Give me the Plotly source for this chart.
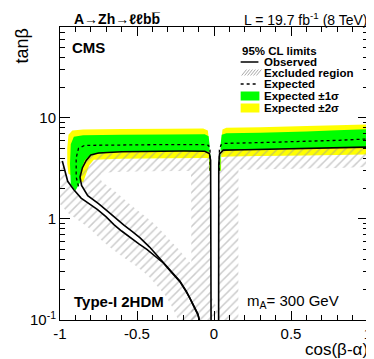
import numpy as np
import plotly.graph_objects as go

# ---- contour data: cos(beta-alpha) vs tan(beta) ----
# observed, lower-left diagonal branch
obs_diag_x = [-0.985, -0.975, -0.95, -0.91, -0.863, -0.80, -0.756, -0.70, -0.65, -0.60,
              -0.543, -0.49, -0.436, -0.38, -0.329, -0.28, -0.222, -0.18, -0.158, -0.13, -0.105, -0.095]
obs_diag_y = [3.75, 3.3, 2.36, 1.95, 1.61, 1.38, 1.24, 1.05, 0.88, 0.76,
              0.65, 0.57, 0.50, 0.43, 0.367, 0.30, 0.24, 0.19, 0.166, 0.135, 0.113, 0.1]
# observed, upper-left branch (vertical at ~0, plateau, then down the diagonal)
obs_ul_x = [-0.019, -0.019, -0.02, -0.022, -0.03, -0.06, -0.2, -0.4, -0.6, -0.75, -0.80,
            -0.83, -0.855, -0.87, -0.86, -0.82, -0.75, -0.69, -0.64, -0.585, -0.53, -0.48,
            -0.42, -0.37, -0.329, -0.28, -0.222, -0.18, -0.158, -0.13, -0.105, -0.095]
obs_ul_y = [0.1, 0.5, 2.0, 3.8, 4.45, 4.68, 4.7, 4.68, 4.62, 4.5, 4.3,
            3.8, 3.2, 2.6, 2.15, 1.7, 1.42, 1.19, 1.02, 0.87, 0.75, 0.65,
            0.53, 0.435, 0.375, 0.305, 0.244, 0.193, 0.168, 0.137, 0.115, 0.1]
# observed, right branch
obs_r_x = [0.03, 0.03, 0.031, 0.036, 0.06, 0.2, 0.4, 0.6, 0.8, 1.0]
obs_r_y = [0.1, 1.0, 3.5, 4.4, 4.8, 4.85, 4.92, 4.98, 5.05, 5.15]

# expected (median), left and right branches
exp_l_x = [-0.025, -0.026, -0.035, -0.06, -0.3, -0.6, -0.84, -0.88, -0.895, -0.895, -0.88]
exp_l_y = [3.0, 4.8, 5.35, 5.45, 5.45, 5.4, 5.35, 5.0, 4.0, 2.6, 2.1]
exp_r_x = [0.034, 0.035, 0.045, 0.07, 0.3, 0.6, 0.8, 1.0]
exp_r_y = [3.0, 4.8, 5.4, 5.6, 5.7, 5.85, 6.0, 6.2]

# +-1 sigma edges
p1_l_x = [-0.028, -0.029, -0.035, -0.06, -0.3, -0.6, -0.85, -0.91, -0.93, -0.935, -0.93, -0.9]
p1_l_y = [3.0, 5.5, 6.6, 6.9, 6.85, 6.8, 6.75, 6.5, 5.5, 3.5, 2.2, 1.9]
m1_l_x = [-0.022, -0.023, -0.03, -0.06, -0.3, -0.6, -0.8, -0.84, -0.865, -0.87]
m1_l_y = [3.0, 4.3, 4.6, 4.7, 4.7, 4.64, 4.35, 3.8, 3.0, 2.3]
p1_r_x = [0.042, 0.043, 0.05, 0.08, 0.3, 0.6, 0.8, 1.0]
p1_r_y = [3.0, 5.5, 6.8, 7.05, 7.15, 7.35, 7.55, 7.75]
m1_r_x = [0.033, 0.034, 0.045, 0.2, 0.4, 0.6, 0.8, 1.0]
m1_r_y = [3.0, 4.2, 4.75, 4.85, 4.92, 4.98, 5.05, 5.15]

# +-2 sigma edges
p2_l_x = [-0.032, -0.033, -0.04, -0.07, -0.3, -0.6, -0.85, -0.92, -0.945, -0.953, -0.953, -0.945]
p2_l_y = [3.0, 6.0, 7.5, 7.85, 7.8, 7.75, 7.7, 7.5, 6.8, 5.0, 3.5, 2.8]
m2_l_x = [-0.024, -0.025, -0.035, -0.06, -0.3, -0.6, -0.78, -0.81, -0.83, -0.85]
m2_l_y = [3.0, 3.85, 4.0, 4.02, 4.0, 3.95, 3.85, 3.4, 2.8, 2.3]
p2_r_x = [0.046, 0.047, 0.055, 0.08, 0.3, 0.6, 0.8, 1.0]
p2_r_y = [3.0, 6.0, 7.7, 8.0, 8.1, 8.3, 8.45, 8.6]
m2_r_x = [0.035, 0.036, 0.05, 0.1, 0.3, 0.6, 0.8, 1.0]
m2_r_y = [3.0, 3.9, 4.1, 4.15, 4.2, 4.25, 4.3, 4.35]

# ---- page geometry ----
W, H = 374, 359
ML, MR, MT, MB = 52, 10, 19, 47
YLOG = [-1, 1.9]
PW, PH = W - ML - MR, H - MT - MB
FONT = "Liberation Sans, Arial, Helvetica, sans-serif"
HATCH_W = 20


def to_px(x, y):
    x, y = np.asarray(x, float), np.asarray(y, float)
    return (x + 1) / 2 * PW, (np.log10(y) - YLOG[0]) / (YLOG[1] - YLOG[0]) * PH


def from_px(u, v):
    return u / PW * 2 - 1, 10 ** (v / PH * (YLOG[1] - YLOG[0]) + YLOG[0])


def hatch_band(x, y, side):
    # strip of fixed pixel width on one side of a contour (like ROOT's hatched line)
    u, v = to_px(x, y)
    P = np.column_stack([u, v])
    d = np.diff(P, axis=0)
    d /= np.hypot(d[:, 0], d[:, 1])[:, None]
    n_seg = side * np.column_stack([-d[:, 1], d[:, 0]])
    n = np.vstack([n_seg[:1], n_seg[:-1] + n_seg[1:], n_seg[-1:]])
    n /= np.hypot(n[:, 0], n[:, 1])[:, None]
    Q = P + HATCH_W * n
    qx, qy = from_px(Q[:, 0], Q[:, 1])
    return list(x) + list(qx[::-1]), list(y) + list(qy[::-1])


def band(ax, ay, bx, by):
    return list(ax) + list(bx[::-1]), list(ay) + list(by[::-1])


fig = go.Figure()

# expected bands
for (ax, ay, bx, by), col in [((p2_l_x, p2_l_y, m2_l_x, m2_l_y), "#ffff00"),
                              ((p2_r_x, p2_r_y, m2_r_x, m2_r_y), "#ffff00"),
                              ((p1_l_x, p1_l_y, m1_l_x, m1_l_y), "#00ff00"),
                              ((p1_r_x, p1_r_y, m1_r_x, m1_r_y), "#00ff00")]:
    bx_, by_ = band(ax, ay, bx, by)
    fig.add_trace(go.Scatter(x=bx_, y=by_, fill="toself", fillcolor=col,
                             mode="none", hoverinfo="skip"))

# excluded-region hatching
for x, y, side in [(obs_diag_x, obs_diag_y, -1), (obs_ul_x, obs_ul_y, 1), (obs_r_x, obs_r_y, -1)]:
    hx, hy = hatch_band(x, y, side)
    fig.add_trace(go.Scatter(x=hx, y=hy, fill="toself", fillcolor="rgba(0,0,0,0)",
                             fillpattern=dict(shape="/", fgcolor="#9a9a9a", size=6, solidity=0.25),
                             mode="none", hoverinfo="skip"))

# expected (dashed)
for x, y in [(exp_l_x, exp_l_y), (exp_r_x, exp_r_y)]:
    fig.add_trace(go.Scatter(x=x, y=y, mode="lines",
                             line=dict(color="black", width=1.3, dash="dot")))

# observed
for x, y in [(obs_diag_x, obs_diag_y), (obs_ul_x, obs_ul_y), (obs_r_x, obs_r_y)]:
    fig.add_trace(go.Scatter(x=x, y=y, mode="lines", line=dict(color="black", width=1.6)))


def px2paper(xp, yp):
    return (xp - ML) / PW, (H - MB - yp) / PH


def note(text, xp, yp, size, xanchor="left", bold=False, **kw):
    x, y = px2paper(xp, yp)
    if bold:
        text = "<b>" + text + "</b>"
    fig.add_annotation(text=text, x=x, y=y, xref="paper", yref="paper", showarrow=False,
                       xanchor=xanchor, yanchor="middle", font=dict(size=size, color="black", family=FONT), **kw)


note("A\u2192Zh\u2192\u2113\u2113bb\u0305", 64, 11, 14, bold=True)
note("L = 19.7 fb<sup>-1</sup> (8 TeV)", 366, 11, 14, xanchor="right")
note("CMS", 62, 40, 15, bold=True)
note("Type-I 2HDM", 64, 293, 15, bold=True)
note("m<sub>A</sub>= 300 GeV", 239, 293, 15)
note("tan\u03b2", 13, 38, 18, xanchor="center", textangle=-90)
note("cos(\u03b2-\u03b1)", 366, 341, 17, xanchor="right")

# legend
note("95% CL limits", 234, 43, 11.5, bold=True)
rows = ["Observed", "Excluded region", "Expected", "Expected \u00b11\u03c3", "Expected \u00b12\u03c3"]
row_y = [54, 65, 76, 88, 100]
for label, yp in zip(rows, row_y):
    note(label, 257, yp, 11.5, bold=True)


def pshape(kind, x0, y0, x1, y1, **kw):
    a0, b0 = px2paper(x0, y0)
    a1, b1 = px2paper(x1, y1)
    fig.add_shape(type=kind, xref="paper", yref="paper", x0=a0, y0=b0, x1=a1, y1=b1, **kw)


pshape("line", 235, row_y[0], 253, row_y[0], line=dict(color="black", width=1.5))
for k in range(6):
    xa = 236 + 3 * k
    pshape("line", xa, 67.5, xa + 5, 61.5, line=dict(color="#aaaaaa", width=1))
pshape("line", 235, row_y[2], 253, row_y[2], line=dict(color="black", width=1.3, dash="dot"))
pshape("rect", 235, row_y[3] - 4.5, 254, row_y[3] + 4.5, fillcolor="#00ff00", line=dict(width=0))
pshape("rect", 235, row_y[4] - 4.5, 254, row_y[4] + 4.5, fillcolor="#ffff00", line=dict(width=0))

y_minor = [m * 10.0 ** e for e in (-1, 0, 1) for m in range(2, 10) if m * 10.0 ** e < 10 ** YLOG[1]]

fig.update_layout(
    width=W, height=H, margin=dict(l=ML, r=MR, t=MT, b=MB),
    paper_bgcolor="white", plot_bgcolor="white", showlegend=False,
    font=dict(family=FONT, color="black"),
    xaxis=dict(range=[-1, 1], tickvals=[-1, -0.5, 0, 0.5, 1], ticktext=["-1", "-0.5", "0", "0.5", "1"],
               ticks="inside", ticklen=9, tickcolor="black", showline=True, linecolor="black",
               linewidth=1, mirror="allticks", showgrid=False, zeroline=False,
               tickfont=dict(size=15), minor=dict(ticks="inside", ticklen=5, dtick=0.1, tickcolor="black")),
    yaxis=dict(type="log", range=YLOG, tickvals=[0.1, 1, 10], ticktext=["10<sup>-1</sup>", "1", "10"],
               ticks="inside", ticklen=10, tickcolor="black", showline=True, linecolor="black",
               linewidth=1, mirror="allticks", showgrid=False, zeroline=False,
               tickfont=dict(size=15), minor=dict(ticks="inside", ticklen=5, tickvals=y_minor, tickcolor="black")),
)

fig.write_html("out.html")
